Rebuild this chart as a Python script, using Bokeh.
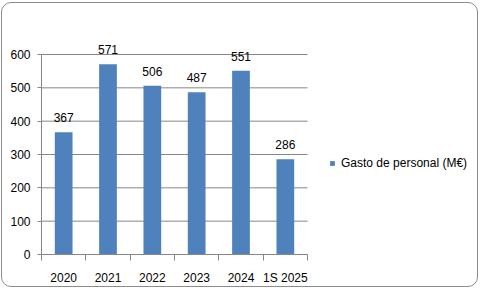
from bokeh.plotting import figure
from bokeh.models import (ColumnDataSource, FixedTicker, LabelSet, Legend, LegendItem, Range1d)
from bokeh.core.properties import value
from bokeh.embed import file_html
from bokeh.resources import INLINE

categories = ["2020", "2021", "2022", "2023", "2024", "1S 2025"]
values = [367, 571, 506, 487, 551, 286]
series_name = "Gasto de personal (M\u20ac)"
y_ticks = [0, 100, 200, 300, 400, 500, 600]

BAR = "#4F81BD"
GRID = "#868686"
FONT = "Liberation Sans"

# layout (inner pixels)
W, H = 477, 285
LEFT, RIGHT, TOP, BOTTOM = 39, 1, 20, 34
AXIS_W, AXIS_H = 266, 200          # pixel span of the category axis and of 0..600
frame_w = W - LEFT - RIGHT
frame_h = H - TOP - BOTTOM
n = len(categories)
y_max = y_ticks[-1]
x_end = n * frame_w / AXIS_W
y_end = y_max * frame_h / AXIS_H

xs = [i + 0.5 for i in range(n)]
src = ColumnDataSource(dict(x=xs, y=values, lab=[str(v) for v in values]))

p = figure(width=W, height=H, output_backend="svg", toolbar_location=None,
           x_range=Range1d(0, x_end), y_range=Range1d(0, y_end),
           min_border_left=LEFT, min_border_right=RIGHT,
           min_border_top=TOP, min_border_bottom=BOTTOM)
p.margin = (2, 0, 0, 1)
p.styles = {"border": "1px solid #8c8c8c", "border-radius": "10px"}
p.outline_line_color = None
p.background_fill_color = "white"
p.border_fill_color = None
p.xgrid.visible = False
p.ygrid.visible = False

# horizontal gridlines limited to the category span
p.segment(x0=[0] * len(y_ticks), x1=[n] * len(y_ticks), y0=y_ticks, y1=y_ticks,
          line_color=GRID, line_width=1)

r = p.vbar(x="x", top="y", width=0.4, bottom=0, source=src, fill_color=BAR, line_color=None)

# y axis
p.yaxis.bounds = (0, y_max)
p.yaxis.ticker = FixedTicker(ticks=y_ticks, minor_ticks=[])
p.yaxis.axis_line_color = GRID
p.yaxis.major_tick_line_color = GRID
p.yaxis.major_tick_out = 4
p.yaxis.major_tick_in = 0
p.yaxis.minor_tick_line_color = None
p.yaxis.major_label_standoff = 7
p.yaxis.major_label_text_font = FONT
p.yaxis.major_label_text_font_size = "12px"
p.yaxis.major_label_text_color = "black"

# x axis: labels at category centres, ticks at category boundaries
p.xaxis.bounds = (0, n)
p.xaxis.ticker = FixedTicker(ticks=xs, minor_ticks=list(range(n + 1)))
p.xaxis.major_label_overrides = {x: c for x, c in zip(xs, categories)}
p.xaxis.axis_line_color = GRID
p.xaxis.major_tick_line_color = None
p.xaxis.major_tick_out = 0
p.xaxis.major_tick_in = 0
p.xaxis.minor_tick_line_color = GRID
p.xaxis.minor_tick_out = 6
p.xaxis.minor_tick_in = 0
p.xaxis.major_label_standoff = 10
p.xaxis.major_label_text_font = FONT
p.xaxis.major_label_text_font_size = "12px"
p.xaxis.major_label_text_color = "black"

labels = LabelSet(x="x", y="y", text="lab", source=src, text_align="center",
                  text_baseline="alphabetic", y_offset=10, text_font=value(FONT),
                  text_font_size=value("12px"), text_color="black")
p.add_layout(labels)

legend = Legend(items=[LegendItem(label=series_name, renderers=[r])],
                location=(288, 84), orientation="vertical")
legend.glyph_width = 6
legend.glyph_height = 6
legend.label_standoff = 6
legend.padding = 0
legend.margin = 0
legend.border_line_color = None
legend.background_fill_alpha = 0
legend.label_text_font = FONT
legend.label_text_font_size = "12px"
legend.label_text_color = "black"
legend.label_height = 14
p.add_layout(legend)

open("out.html", "w").write(file_html(p, INLINE))
